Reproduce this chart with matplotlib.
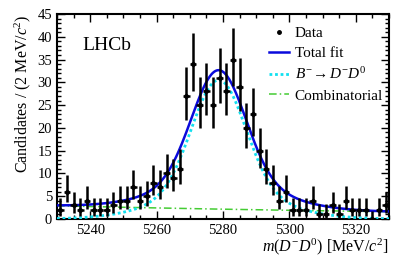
"""plot.py"""

import numpy as np
import matplotlib
matplotlib.use("Agg")
import matplotlib.pyplot as plt
from matplotlib.lines import Line2D
from matplotlib.ticker import MultipleLocator

plt.rcParams["font.family"] = ["Liberation Serif", "DejaVu Serif"]
plt.rcParams["mathtext.fontset"] = "custom"
plt.rcParams["mathtext.rm"] = "Liberation Serif"
plt.rcParams["mathtext.it"] = "Liberation Serif:italic"
plt.rcParams["mathtext.bf"] = "Liberation Serif:bold"

# binned data, 2 MeV bins from 5230 to 5330
bin_centers = np.arange(5231, 5330, 2)
counts = [2, 6, 3, 2, 4, 2, 2, 2, 3, 4,
          4, 7, 4, 5, 8, 7, 10, 9, 11, 27,
          34, 25, 28, 25, 31, 28, 35, 29, 20, 23,
          15, 11, 8, 4, 6, 2, 2, 2, 4, 1,
          1, 3, 1, 4, 2, 2, 2, 0, 2, 3]

# fit model parameters
sig_mean = 5278.7
sig_amp_core, sig_width_core = 24.5, 8.0
sig_amp_tail, sig_width_tail = 6.0, 17.0
comb_start, comb_end = 2.9, 1.6

x_lo, x_hi = 5230, 5330


def poisson_errors(n):
    """approximate 68% Poisson interval"""
    n = np.asarray(n, dtype=float)
    up = (n + 1) * (1 - 1 / (9 * (n + 1)) + 1 / (3 * np.sqrt(n + 1))) ** 3 - n
    safe = np.where(n > 0, n, 1)
    lo = safe * (1 - 1 / (9 * safe) - 1 / (3 * np.sqrt(safe))) ** 3
    lo = np.where(n > 0, n - lo, 0)
    return lo, up


def signal(x):
    d = x - sig_mean
    return (sig_amp_core * np.exp(-d ** 2 / (2 * sig_width_core ** 2))
            + sig_amp_tail * np.exp(-d ** 2 / (2 * sig_width_tail ** 2)))


def combinatorial(x):
    slope = np.log(comb_end / comb_start) / (x_hi - x_lo)
    return comb_start * np.exp(slope * (x - x_lo))


fig = plt.figure(figsize=(4.09, 2.61), dpi=100)
ax = fig.add_axes([57 / 409, 42 / 261, 332 / 409, 205 / 261])

xs = np.linspace(x_lo, x_hi, 500)
sig = signal(xs)
comb = combinatorial(xs)

lo, up = poisson_errors(counts)
ax.errorbar(bin_centers, counts, xerr=1, yerr=[lo, up], fmt="o", ms=2.5,
            color="black", ecolor="black", elinewidth=1.8, capsize=0, zorder=5)
ax.plot(xs, comb, color="#44cc33", lw=1.1, ls=(0, (5, 2, 1, 2)), zorder=2)
ax.plot(xs, sig, color="#11e0f0", lw=2.0, ls=(0, (1, 1)), zorder=3)
ax.plot(xs, sig + comb, color="#0a0adc", lw=1.8, zorder=4)

ax.set_xlim(x_lo, x_hi)
ax.set_ylim(0, 45)
ax.xaxis.set_major_locator(MultipleLocator(20))
ax.xaxis.set_minor_locator(MultipleLocator(5))
ax.yaxis.set_major_locator(MultipleLocator(5))
ax.yaxis.set_minor_locator(MultipleLocator(1))
ax.tick_params(which="both", direction="in", top=True, right=True,
               labelsize=10.5, width=1.0)
ax.tick_params(which="major", length=6)
ax.tick_params(which="minor", length=3)
for spine in ax.spines.values():
    spine.set_linewidth(1.5)

ax.set_xlabel(r"$m(D^{-}D^{0})$ [MeV/$c^{2}$]", fontsize=11.5, loc="right",
              labelpad=0)
ax.set_ylabel(r"Candidates / (2 MeV/$c^{2}$)", fontsize=11.5, loc="top",
              labelpad=3)

ax.text(0.075, 0.845, "LHCb", transform=ax.transAxes, fontsize=14,
        va="center", ha="left")

handles = [
    Line2D([], [], marker="o", ls="none", color="black", ms=2.5),
    Line2D([], [], color="#0a0adc", lw=1.8),
    Line2D([], [], color="#11e0f0", lw=2.0, ls=(0, (1, 1))),
    Line2D([], [], color="#44cc33", lw=1.1, ls=(0, (5, 2, 1, 2))),
]
labels = ["Data", "Total fit", r"$B^{-}\!\rightarrow D^{-}D^{0}$",
          "Combinatorial"]
ax.legend(handles, labels, loc="upper left", bbox_to_anchor=(0.64, 0.94),
          frameon=False, fontsize=11, borderpad=0, borderaxespad=0,
          handlelength=1.3, handletextpad=0.35, labelspacing=0.42)

fig.savefig("out.png", dpi=100)
